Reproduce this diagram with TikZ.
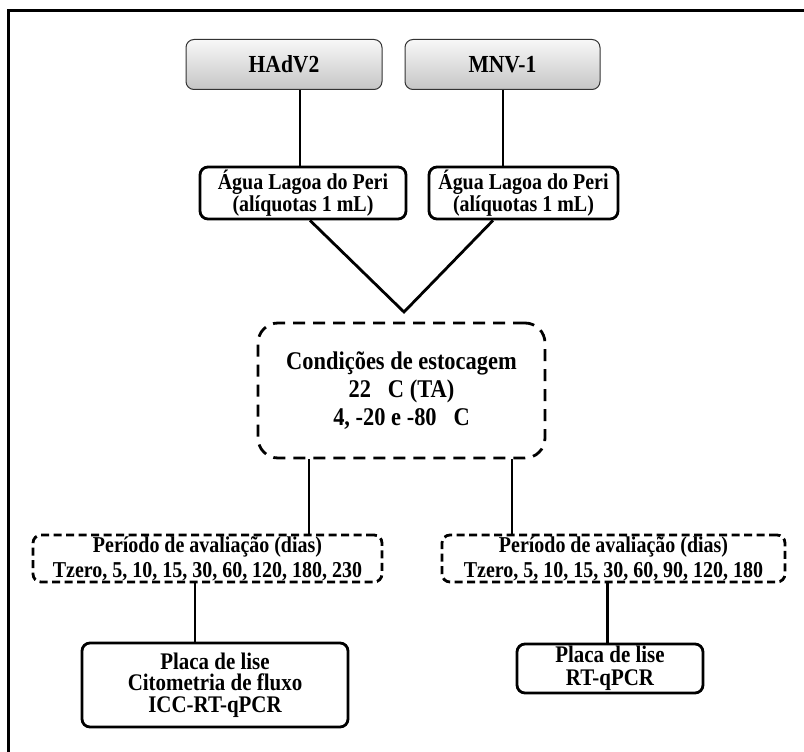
\documentclass[tikz,border=0pt]{standalone}
\usepackage{fontspec}
\setmainfont{Liberation Serif}[FakeStretch=0.88]
\begin{document}
\begin{tikzpicture}[x=1pt,y=-1pt,
  solidbox/.style={draw, line width=2.8pt, rounded corners=8pt, fill=white, align=center, inner sep=0pt, font=\bfseries\fontsize{22.7}{18.5}\selectfont},
  gradbox/.style={draw=black!80, line width=1pt, rounded corners=8pt, top color=gray!6, bottom color=gray!45, align=center, inner sep=0pt, font=\bfseries\fontsize{24.5}{24}\selectfont},
  dashbox/.style={draw, line width=2.8pt, dash pattern=on 8pt off 4.5pt, rounded corners=8pt, align=center, inner sep=0pt, font=\bfseries\fontsize{22.7}{25}\selectfont},
  conn/.style={line width=2.8pt}]
\useasboundingbox (0,0) rectangle (804,752);
\fill[white] (0,0) rectangle (804,752);
\draw[line width=3pt] (8.5,752) -- (8.5,10.5) -- (804,10.5);

\node[gradbox, minimum width=196pt, minimum height=50pt] (hadv) at (284,64.5) {HAdV2};
\node[gradbox, minimum width=195pt, minimum height=50pt] (mnv) at (502.5,64.5) {MNV-1};

\node[solidbox, minimum width=206pt, minimum height=52pt] (agua1) at (303,193) {Água Lagoa do Peri\\(alíquotas 1 mL)};
\node[solidbox, minimum width=189pt, minimum height=52pt] (agua2) at (523.5,193) {Água Lagoa do Peri\\(alíquotas 1 mL)};

\node[dashbox, dash pattern=on 12pt off 8pt, rounded corners=20pt, minimum width=287pt, minimum height=135pt, font=\bfseries\fontsize{25.5}{28}\selectfont] (cond) at (401.5,390.5) {Condições de estocagem\\22~~ C (TA)\\4, -20 e -80~~ C};

\node[dashbox, minimum width=349pt, minimum height=47pt] (per1) at (207.5,558.5) {Período de avaliação (dias)\\Tzero, 5, 10, 15, 30, 60, 120, 180, 230};
\node[dashbox, minimum width=343pt, minimum height=47pt] (per2) at (613.5,558.5) {Período de avaliação (dias)\\Tzero, 5, 10, 15, 30, 60, 90, 120, 180};

\node[solidbox, minimum width=266pt, minimum height=84pt, font=\bfseries\fontsize{23.8}{21.5}\selectfont] (placa1) at (215,685) {Placa de lise\\Citometria de fluxo\\ICC-RT-qPCR};
\node[solidbox, minimum width=186pt, minimum height=49pt, font=\bfseries\fontsize{23.8}{23.5}\selectfont] (placa2) at (610,668.5) {Placa de lise\\RT-qPCR};

\coordinate (xa) at (300,0);
\coordinate (xb) at (503,0);
\coordinate (xl) at (310,0);
\coordinate (xr) at (493,0);
\coordinate (apex) at (404,312);
\coordinate (xc1) at (309,0);
\coordinate (xc2) at (512,0);
\coordinate (xp1) at (195,0);
\coordinate (xp2) at (607.5,0);

\draw[conn] (hadv.south -| xa) -- (agua1.north -| xa);
\draw[conn] (mnv.south -| xb) -- (agua2.north -| xb);
\draw[conn, line join=miter] (agua1.south -| xl) -- (apex) -- (agua2.south -| xr);
\draw[conn] (cond.south -| xc1) -- (per1.north -| xc1);
\draw[conn] (cond.south -| xc2) -- (per2.north -| xc2);
\draw[conn] (per1.south -| xp1) -- (placa1.north -| xp1);
\draw[conn] (per2.south -| xp2) -- (placa2.north -| xp2);
\end{tikzpicture}
\end{document}
